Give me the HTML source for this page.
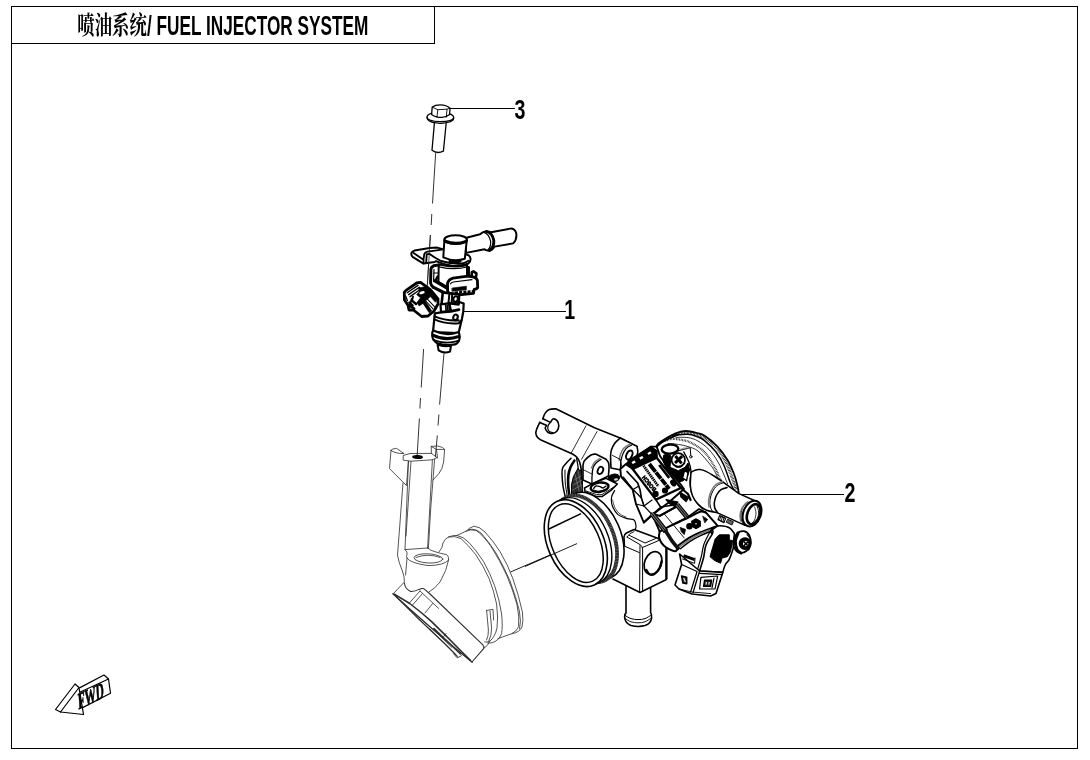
<!DOCTYPE html>
<html lang="zh">
<head>
<meta charset="utf-8">
<title>喷油系统/ FUEL INJECTOR SYSTEM</title>
<style>
html,body{margin:0;padding:0;background:#fff;}
body{width:1090px;height:760px;overflow:hidden;position:relative;font-family:"Liberation Sans","Noto Sans CJK SC",sans-serif;}
svg{position:absolute;left:0;top:0;display:block;filter:grayscale(1);}
.t{font-family:"Liberation Sans","Noto Sans CJK SC",sans-serif;font-weight:bold;fill:#000;}
.n{fill:none;stroke:#000;stroke-linecap:round;stroke-linejoin:round;}
.a{stroke-width:1.3;}
.b{stroke-width:0.9;}
.c{stroke-width:0.7;stroke:#222;}
.h{stroke-width:1.8;}
.k{fill:#000;stroke:#000;stroke-width:0.6;stroke-linejoin:round;}
.w{fill:#fff;stroke:#000;stroke-width:1.3;stroke-linejoin:round;stroke-linecap:round;}
</style>
</head>
<body>
<svg width="1090" height="760" viewBox="0 0 1090 760">
<rect x="0" y="0" width="1090" height="760" fill="#fff"/>
<!-- FRAME -->
<g id="frame" class="n" style="stroke-width:1;stroke-linecap:square;stroke-linejoin:miter" shape-rendering="crispEdges">
<rect x="11.5" y="6.5" width="1066" height="742"/>
<path d="M11.5 43.5H434.5V6.5"/>
</g>
<!-- TITLE -->
<g id="title">
<text class="t" style="font-family:'Liberation Sans','Noto Serif CJK SC',serif;font-weight:700" x="0" y="0" font-size="25" transform="translate(77.3 34.4) scale(0.695 1)">喷油系统</text>
<text class="t" x="0" y="0" font-size="27.4" transform="translate(147 34.8) scale(0.629 1)">/ FUEL INJECTOR SYSTEM</text>
</g>
<!-- LABELS -->
<g id="labels">
<text class="t" font-size="27.3" transform="translate(514.6 119.4) scale(0.72 1)">3</text>
<text class="t" font-size="27.3" transform="translate(564.2 318.7) scale(0.72 1)">1</text>
<text class="t" font-size="27.3" transform="translate(844.6 501.8) scale(0.72 1)">2</text>
</g>
<!-- leaders + axis lines -->
<g id="leaders" class="n" style="stroke-width:1.15;stroke-linecap:butt">
<path d="M450 108.5H514.9"/>
<path d="M463.5 311.5H566"/>
<path d="M739 494.5H844"/>
</g>
<g id="axes" class="n" style="stroke-width:0.8;stroke-linecap:butt">
<path d="M435.7 152.5L432.5 203.5M431.8 214L431.2 225M430.4 235L425.4 316M423.6 349L421.2 387.5M420.5 398L419.9 408.5M419.4 418.5L417.2 455"/>
<path d="M444 353L439.6 404.5M438.9 414.5L438 425.5M437.3 435.5L435.4 457"/>
</g>
<!-- bolt (3) -->
<g id="bolt" class="n a">
<path d="M432.2 107.2Q435 104.9 440.5 104.9Q446.5 105 450 108.2L449.6 114.6Q446 117.6 441.5 117.4Q435 117.3 431.6 114.4Z"/>
<path class="b" d="M432.2 107.2L437.8 109.7L447 109.2L450 108.2M437.8 109.7L437 117M447 109.2L446.3 117.2"/>
<path d="M431.6 113.3Q427 114.5 427 117.2Q427.3 121 440 121.7Q453.3 121.3 453.7 117.6Q453.6 115.2 449.6 113.9"/>
<path d="M427 117.6Q427.2 122.8 440 123.3Q453.5 122.8 453.7 118"/>
<path d="M434.4 123L432 150.2Q437 154.2 443.4 151.2L446.2 123"/>
</g>

<!-- injector (1) -->
<g id="injector" class="n" style="stroke-width:2.07">
<!-- pipe -->
<path class="w" style="stroke-width:1.95" d="M465.5 238L480 234.3Q483 231.5 486.5 231.2L491 232.2L510.3 228.6Q514.5 228.3 516.2 233Q517.2 239.5 513.2 243.4L494.5 246.6Q492 251 488 250.6Q485.5 250.2 484.5 249.2L466 252.9Z"/>
<path style="stroke-width:2.93" d="M486.6 231.6Q492.3 232.5 493.8 240.5Q494.2 247.5 489.5 250.4"/>
<path style="stroke-width:1.2" d="M483.8 232.4Q489 234 490.6 241Q491.2 247 487.6 250.2"/>
<!-- bracket plate -->
<path class="w" style="stroke-width:2" d="M443.5 249.4L437.2 247.6L429.7 247.9L414.5 250.6Q411.4 251.6 411.3 253.8Q411.4 255.8 412.6 256.8L423.5 263.6L434.7 262L436 261.2Q444 265 453 266Q462 266 468.4 263.5Q470.6 261.8 470.6 259Q470.5 256.6 468.5 255.2L466 254.4Z"/>
<path style="stroke-width:1.83" d="M413.6 253L423.5 259.7L424.3 254Q425 251.9 427.5 251.6L442 249.7M423.5 259.7L423.6 263.4M426.7 254.2L426.2 262.4M426.7 254.2L429.7 254Q434 257.4 441 261Q449.7 263.6 459 263.8Q465 263.4 468.6 260.8"/>
<!-- cap cylinder -->
<path class="w" style="stroke-width:2" d="M444.4 240L443.3 257.3Q454.7 262.4 464.8 258.8L466.8 240Z"/>
<ellipse class="w" style="stroke-width:2.07" cx="455.6" cy="239.5" rx="11.2" ry="4.2"/>
<path style="stroke-width:3.17" d="M445.2 241.2Q455.6 245.6 466.2 241.4"/>
<path style="stroke-width:2.93" d="M450 261Q455 262.4 460 261.4"/>
<!-- body -->
<path class="w" style="stroke-width:1.95" d="M438.7 264.5L438.5 282L447.5 288.5L449.5 280.5L467 276.7L467 265Q456 268.5 438.7 264.5Z"/>
<path style="stroke-width:1.2" d="M439 266.8Q455 270.4 467 267"/>
<path style="stroke-width:2.93" d="M468.5 267.4V276"/>
<path style="stroke-width:3.66" d="M435.3 281L447.6 288.2"/>
<path style="stroke-width:3.17" d="M433.6 287.4L444.6 293"/>
<!-- back plate -->
<path style="stroke-width:2.93" d="M438.6 265L433.6 265.8Q431 267 430.9 269.5L430.6 283Q431 285.5 433 287"/>
<path style="stroke-width:1.2" d="M433.6 273H438.4M434 269.6L433.6 281.6"/>
<path style="stroke-width:2.44" d="M437.6 276.6L435.6 280.6"/>
<!-- tab -->
<path class="w" style="stroke-width:2.68" d="M471.6 276.6L471.9 272.2L473.4 271.4L476.4 273.4L475.9 277.6"/>
<!-- latch -->
<path class="w" style="stroke-width:2.81" d="M447.6 291.4L447.5 283.4Q448.6 279.4 453 278.2L467.8 276.2L473 276.9Q476.6 277.8 477.4 280.4L477.7 287.6Q476.5 289.3 474.2 289.4L473.4 293.4L461.5 294.6L449.4 293.4Z"/>
<path style="stroke-width:1.2" d="M450.4 283.8Q451.5 282.4 453.4 282L472 279.7"/>
<path class="k" d="M452.2 288L466.4 286.2L466.4 289.8L452.2 291.3Z"/>
<path style="stroke-width:2.44;stroke-dasharray:3 1.2;stroke-linecap:butt" d="M455 292.6L473 291.3"/>
<!-- neck -->
<path class="w" style="stroke-width:2.56" d="M442.8 292.5L441.5 304.5L458.6 303L459.2 294.6Z"/>
<path style="stroke-width:1.95" d="M449.4 293.6L448.4 303.6M452.2 294.6L451.6 302.6"/>
<ellipse cx="455.6" cy="299" rx="2.2" ry="2.8" style="stroke-width:2.07" transform="rotate(20 455.6 299)"/>
<!-- cup -->
<path class="w" style="stroke-width:2.20" d="M440.5 304.4L449.2 303.4L458.6 304.6L459.4 302L463.7 303.5L463.3 311.5L462 318.5L458.6 333L433 332L434.8 313.4L441 312.4Z"/>
<path style="stroke-width:2.68" d="M449.2 303.4L450.8 311.4L441.4 312.2M450.8 311.4L459 309.6"/>
<path style="stroke-width:1.71" d="M445.6 304.2L446.2 311.4M447.6 305.5L448 310.4"/>
<ellipse cx="455.5" cy="317.3" rx="2.2" ry="2.8" style="stroke-width:2.07" transform="rotate(20 455.5 317.3)"/>
<path style="stroke-width:2.07" d="M434.6 316.4Q445 321 458.6 320.4M434.4 319.4Q445 324.4 458.8 323.2L461.4 320.4"/>
<!-- o-ring -->
<path class="w" style="stroke-width:2.20" d="M433.2 330.6Q431.8 332 432.2 335.5Q432.5 340.5 437 343Q445 346.4 455 344.4Q459.4 342.6 459.6 338L459.4 334.2Q459 332.6 458 332.2Q446 336.6 433.2 330.6Z"/>
<path style="stroke-width:3.17" d="M433.4 335.4Q445 341.2 459 336.6"/>
<path style="stroke-width:1.71" d="M433.4 339.8Q445 345 459 340.6"/>
<!-- tip -->
<path class="w" style="stroke-width:2.07" d="M437.6 344.6L438.6 350.4Q444 353.8 450 351.6L451 345.6Q444 347 437.6 344.6Z"/>
<!-- connector -->
<path class="w" style="stroke-width:2.81" d="M404.3 292.2L406 290.4L416.7 283L420.5 282.3L430.4 289.7L438 299L438 304L434 311L428 316L421.7 316.5L413.4 310L409 310L408 305.3L404.4 299.7Z"/>
<path style="stroke-width:1.34" d="M407.2 292.8L418 285.4M408.6 294.6L419.4 287.2M410 296.6L420.6 289.2M405.6 296L407.4 300.6M411.4 298.6L410.4 303"/>
<path class="k" d="M418.6 287.9L426.1 286.6L432.9 292.2L437.9 299.1L435.4 302.2L430.4 296.6L425.4 301L431.7 310.9L429.2 312.8L423 303.4L419.2 305.9L416.7 302.8L420.5 297.8L416.7 294.7L419.2 291.6Z"/>
<ellipse cx="422" cy="292.7" rx="2.8" ry="1.4" fill="#fff" stroke="none" transform="rotate(-15 422 292.7)"/>
<path style="stroke-width:2.44" d="M408.6 305.3L414.2 308.6M412 300.6L416 304M409.4 302.6L412.6 305.6"/>
<path style="stroke-width:1.95" d="M413 296.8L411.6 301.6"/>
<path style="stroke-width:1.03" d="M427.4 299.1L434.9 307.2M425.8 301L433.2 309.2"/>
</g>

<g class="n" style="stroke-width:0.75;stroke-linecap:butt;stroke:#222"><path d="M430.4 235L427.4 284.6"/></g>

<!-- intake boot -->
<g id="boot" class="n" style="stroke-width:0.8;stroke:#2a2a2a">
<!-- left ear -->
<path d="M391 450.4Q390.6 449 396.6 448.4L404 453.6M391 450.4Q395 453.6 403.6 453.6M391 450.4L389.5 468.6L406.5 485.6L408.4 461.4"/>
<path d="M403 483L399.6 528L397.5 555Q398.5 562 402 570Q404.6 576 404.4 582L393.5 593.5"/>
<!-- hex top -->
<path d="M403.6 455.4L410 453.5L431.5 453.4L437 457.6L432.4 459.8L411 461.2L403.6 460.2Z"/>
<ellipse cx="417.6" cy="457" rx="5.4" ry="2" fill="#000" stroke="none" transform="rotate(3 417.6 457)"/>
<!-- right ear -->
<path d="M431.4 453.4L431.2 446.4L437.6 446Q443.6 447 444.6 449.4L443.6 462Q442.6 469 439 473.4L433 480M431.2 446.4L436.4 449.4L444.4 449.4M436.4 449.4L437.6 458"/>
<!-- column -->
<path d="M408.4 461.4L405 549.6L427.6 548M411 461.4L406 536M432.4 459.8L427.6 548M434.6 459.4L430.6 510L428.4 548.6"/>
<!-- seat -->
<path d="M405 549.6Q408 552 407 554.6Q406 556.6 407 558Q410 563 428 565.6Q444 565.4 448.6 560Q449 556.4 446.6 554.6Q440 553.4 436 552Q430 550.6 427.6 548"/>
<ellipse cx="428.4" cy="558.4" rx="14.4" ry="4.6" transform="rotate(3 428.4 558.4)"/>
<path d="M416 557.4Q428 553 440 557.4"/>
<path d="M407 558L405.6 575M448.6 560Q447 570 440 582Q435 588.6 429 592"/>
<!-- big bell -->
<path d="M439 552Q442.8 548 443 543Q444.6 539 448.4 537Q453 535.2 457 535.4L466 531.2Q469.6 527.4 474 526.2Q479.4 526.4 485 532Q493 540.6 500 551.6Q508 565 513 579Q519 596 522.4 612Q523.6 621 522 627Q519.4 632.6 512 633.6L498 638.6"/>
<path d="M466 531.2Q471 528.8 476 530.4Q483 535 491 546.4Q500 560.6 506.6 575Q513 590 517 604.6Q519.6 617 518.6 626.6Q516.6 631.6 512 633.6"/>
<path d="M468.6 529.6Q475 528 481 533Q489 542 496 553Q504 567 510 581Q516 597 519.4 611Q521.4 622 519.6 629"/>
<path d="M448.4 537Q455 535.4 461 538.6Q468 544.6 475.6 554.4Q483.6 566 489 578.4Q494 591 496.6 604Q498.4 618 497 628Q495 637 490 641Q487 642.6 484.6 642"/>
<path d="M457 535.4Q463.6 536.6 469 542.6Q476 550 483.6 561.6Q490 573 494.6 585.6Q499.6 600 501.6 614Q502.8 626 501.6 633.6Q499.6 639.4 495 641.6Q491 643.6 487.6 643"/>
<path d="M486.6 610.4L493 609.4L493.6 620M486.6 610.4L488.4 630Q488.6 636 486.6 640"/>
<path d="M490 611L491.6 628Q491.6 636 489 640.6"/>
<!-- flange -->
<path style="stroke-width:1.05" d="M404.4 583Q405 589 410.6 591.4Q415 591.6 419 589.4Q423 587.6 425 589.6L430 594L482.6 644.6Q484.6 646.6 483.6 648.6L472 662"/>
<path d="M420 591L409.4 603M422.4 593.6L412.6 605M420 591L438.6 608.4M432.6 603.6L425 613"/>
<path d="M483.6 648.6Q488 646 490 641"/>
<path style="stroke-width:1.3" d="M392.9 593.8Q430 628 472.2 662.2"/>
<path style="stroke-width:1.5" d="M394.4 594.2L409.7 603.5Q421 612 431.6 621.6Q447 636.6 462.5 652.5L470.4 660.4"/>
<path style="stroke-width:1.1" d="M395.6 596.2L418.7 619L444.5 643.5L457.3 656.4"/>
<path style="stroke-width:1.6;stroke:#333" d="M434 628.6L447 641L460.4 654"/>
<path style="stroke-width:0.8" d="M430 629L456 654.6M437 633L452 647.6"/>
<path style="stroke-width:0.9" d="M453.5 653.8L457.3 657.9L461.4 655.7M443.6 636.6L446 633.6"/>
</g>
<g id="axis2" class="n" style="stroke-width:0.9;stroke-linecap:butt">
<path d="M510.5 572L581 541.6"/>
</g>

<!-- FWD arrow -->
<g id="fwd" class="n" style="stroke-width:1.2">
<path d="M60.5 712L79 687.5L83.5 714.5Z"/>
<path d="M60.5 712L55.5 709.5L75 684L79 687.5"/>
<path d="M80.3 692L108.5 679L110.5 693.2L82.6 707.6"/>
<path d="M80 687.6L104 675L108.5 679"/>
<text style="font-family:'Liberation Serif',serif;font-weight:bold;fill:#000;stroke:#000;stroke-width:0.7" font-size="23" transform="matrix(0.48 -0.235 0.06 1 78.6 709.6)">FWD</text>
</g>

<!-- throttle body (2) -->
<g id="throttle" class="n" style="stroke-width:1.4">
<path class="n" style="stroke-width:1.8" d="M655.5 448.5C655.9 447.8 656.4 445.6 658 444C659.6 442.4 661.8 440.9 665 439C668.2 437.1 673.5 434.1 677 432.8C680.5 431.5 682.7 431 686 431C689.3 431 693.8 432.2 697 433C700.2 433.8 701.7 433.8 705 436C708.3 438.2 713.2 442 717 446C720.8 450 724.7 455.3 727.5 460C730.3 464.7 732.3 469.7 734 474C735.7 478.3 736.7 482.6 737.5 486C738.3 489.4 738.8 493.1 739 494.5"/>
<path class="n" style="stroke-width:3;stroke-dasharray:0.7 0.8;stroke-linecap:butt;stroke:#111" d="M675 434C677.3 433.8 684.8 432.5 689 432.8C693.2 433.1 696.8 434.4 700 435.6C703.2 436.8 704.8 437.5 708 440C711.2 442.5 715.8 446.5 719 450.6C722.2 454.7 724.7 459.8 727 464.5C729.3 469.2 731 474.8 732.6 479C734.2 483.2 735.8 488.2 736.4 490"/>
<path class="n" style="stroke-width:1.5" d="M672 435.6C674.6 435.4 683.5 434 687.7 434.2C691.9 434.4 694.2 435.5 697 436.6C699.8 437.7 701.3 438 704.5 440.6C707.7 443.2 712.8 447.9 716 452C719.2 456.1 721.5 460 723.8 465C726.1 470 728.3 477.8 730 482C731.7 486.2 733.3 488.7 734 490"/>
<path class="n" style="stroke-width:2.2;stroke-dasharray:0.7 0.85;stroke-linecap:butt;stroke:#111" d="M664 441C665.3 440.7 669 439.2 672 439C675 438.8 678.7 439.3 682 440C685.3 440.7 687.9 441 691.6 443C695.4 445 700.9 448.3 704.5 452C708.1 455.7 711.1 461.1 713.5 465C715.9 468.9 717.4 472.7 718.6 475.4C719.9 478.1 720.6 480.1 721 481"/>
<path class="n" style="stroke-width:0.8" d="M668 443.5C669.8 443.7 675.4 444 678.7 444.5C682 445 684.8 445.5 688 446.6C691.2 447.7 694.4 448.1 698 451C701.6 453.9 706.8 460.4 709.6 463.8C712.4 467.2 713.4 469 714.8 471.5C716.2 474 717.5 477.8 718 479"/>
<path class="n" style="stroke-width:0.8" d="M676 437.4C678 437.4 684.3 437 688 437.6C691.7 438.2 694.5 439 698 441C701.5 443 705.7 446.1 709 449.6C712.3 453.1 715.5 457.8 718 462C720.5 466.2 722.4 471.3 724 475C725.6 478.7 727 482.5 727.6 484"/>
<path class="n" style="stroke-width:1.6" d="M542.9 418.7C543.2 417.8 543.9 414.9 545 413.4C546.1 411.9 547.5 410.4 549.3 409.6C551.1 408.8 554.7 408.9 555.8 408.8L594.5 427.7L620.2 438L637 446.4"/>
<path class="n" style="stroke-width:1.6" d="M542.9 418.7L550.4 422.4C550.8 421.8 551.9 419.3 553 419C554.1 418.7 556 419.5 557 420.6C558 421.7 558.8 423.9 558.8 425.6C558.8 427.3 558.1 429.7 557 431C555.9 432.3 554 433.2 552.4 433.4C550.8 433.6 548.8 432.9 547.6 432C546.4 431.1 545.3 429.1 545.2 428C545.1 426.9 546.5 426 546.8 425.6L539.8 422.4"/>
<path class="n" style="stroke-width:1.2" d="M550.4 422.4C550.1 422.8 548.8 424 548.4 425C548 426 547.6 427.5 547.8 428.6C548 429.7 548.8 430.9 549.6 431.6C550.4 432.3 552.1 432.4 552.6 432.6"/>
<path class="n" style="stroke-width:1.6" d="M539.8 422.4C539.3 423.4 537.7 426.6 537 428.4C536.3 430.2 535.7 431.5 535.8 433C535.9 434.5 536.7 436.4 537.6 437.6C538.5 438.8 540.4 439.6 541 440L572.5 454C573.2 454.5 575.4 455.7 576.6 457C577.8 458.3 578.8 459.7 579.6 462C580.4 464.3 581 467.2 581.4 471C581.8 474.8 582 481.5 582.2 485C582.4 488.5 582.4 490.8 582.4 492"/>
<path class="n" style="stroke-width:0.8" d="M586 425.8L571.3 452.9M597 431.6L581.6 459.3"/>
<path class="n" style="stroke-width:1.5" d="M571 458.4C570.2 459.2 567.8 461.4 566.4 463C565 464.6 563.3 466.2 562.6 468C561.9 469.8 561.9 471 562 474C562.1 477 562.4 482.1 563 486C563.6 489.9 565 495.7 565.4 497.6"/>
<path class="n" style="stroke-width:2.6" d="M574.4 460.6C573.8 461.7 571.6 464.6 570.6 467C569.6 469.4 568.8 472 568.4 475C568 478 568 481.4 568.2 485C568.4 488.6 569.2 494.7 569.4 496.6"/>
<path class="n" style="stroke-width:1" d="M565 470C565 472 564.9 477.8 565.2 482C565.5 486.2 566.7 492.8 567 495"/>
<path class="n" style="stroke-width:1.3" d="M576.6 458.6C576.8 459.5 577.3 462.1 577.6 464C577.9 465.9 578.3 469 578.4 470"/>
<path d="M577.6 469L581.4 471L582.4 492.6L571.6 495.6L571.4 485Q572.4 476 577.6 469Z" fill="#2a2a2a" stroke="#000" stroke-width="1"/>
<path class="n" style="stroke:#fff;stroke-width:0.45;opacity:.6" d="M574 480L581 476M573 485L582 480M572.6 490L582 485M575 474L580 495M578 471L582 490"/>
<path class="w" style="stroke-width:1.6" d="M620.2 438C619.3 438.9 616.1 441.4 614.6 443.4C613.1 445.4 612.1 447.9 611.4 450C610.7 452.1 610.7 453 610.6 456C610.5 459 610.9 466 611 468L621 470L636 458C636.3 457 637.6 453.9 637.8 452C638 450.1 637.1 447.3 637 446.4L620.2 438Z"/>
<path class="n" style="stroke-width:1.2" d="M631.8 445C630.8 445.6 627.5 447 626 448.6C624.5 450.2 623.4 452.6 622.6 454.6C621.8 456.6 621.4 458.4 621 460.6C620.6 462.8 620.5 466.8 620.4 468"/>
<path class="n" style="stroke-width:1.6;stroke:#777" d="M630 444.2C629 444.8 625.6 446.4 624 448C622.4 449.6 621.4 452 620.6 454C619.8 456 619.4 459 619.2 460"/>
<ellipse class="n" style="stroke-width:2" cx="629.3" cy="455" rx="2.8" ry="4.8" transform="rotate(25 629.3 455)"/>
<path class="n" style="stroke-width:0.9" d="M612.5 455.4L620 459.3M620 459.3L621.8 466.4"/>
<path class="w" style="stroke-width:1.6" d="M583 465C583.3 464.3 583.3 462.2 584.6 460.6C585.9 459 588.8 456.3 590.6 455.2C592.5 454.1 594.9 454.2 595.7 454L606 459.3C606.4 459.9 608.1 461.6 608.6 463C609.1 464.4 609 465.8 609 468C609 470.2 608.5 474.7 608.4 476L592 484L583 480Z"/>
<path class="n" style="stroke-width:1.3" d="M601 459.3C600.2 459.9 597.3 461.6 596 463C594.7 464.4 593.7 465.7 593 468C592.3 470.3 592.2 474.3 592 477C591.8 479.7 592 482.8 592 484"/>
<path class="n" style="stroke-width:1.4;stroke:#777" d="M599.4 458.6C598.6 459.2 595.7 460.8 594.4 462.4C593.1 464 591.9 467.1 591.4 468"/>
<ellipse class="n" style="stroke-width:1.8" cx="600.4" cy="470.4" rx="2.6" ry="3.8" transform="rotate(25 600.4 470.4)"/>
<path class="n" style="stroke-width:0.8" d="M583 469.6L592 474"/>
<ellipse style="fill:#000;stroke:#000;stroke-width:1" cx="613.8" cy="478" rx="5.8" ry="3.9" transform="rotate(-10 613.8 478)"/>
<ellipse style="fill:#fff;stroke:none;opacity:.85" cx="616" cy="479.4" rx="2" ry="1.2" transform="rotate(-10 616 479.4)"/>
<path class="w" style="stroke-width:1.5" d="M584.6 488L593 483.4L606 478.4L617.4 484L611 490.4L602 496.6L596 496.4L585 491.6Z"/>
<path class="n" style="stroke-width:0.9" d="M586 491L596.6 494.6L602 494.6L616 485.6"/>
<ellipse class="n" style="stroke-width:2.4" cx="599.6" cy="487.2" rx="9" ry="4.6" transform="rotate(-8 599.6 487.2)"/>
<path class="n" style="stroke-width:1.3" d="M593.6 488.6C594 488.2 594.9 486.3 596 486C597.1 485.7 598.8 486.3 600 486.6C601.2 486.9 602 488.1 603 488C604 487.9 605.5 486.3 606 486"/>
<path class="n" style="stroke-width:1" d="M594 490C594.8 490.2 597.2 491.5 599 491.4C600.8 491.3 604 489.9 605 489.6"/>
<path class="n" style="stroke-width:1.2" d="M614.6 490.6C614.1 491.7 612 494.4 611.6 497C611.2 499.6 611.3 503.1 612.4 506C613.5 508.9 615.6 512.5 618 514.6C620.4 516.7 624.3 517.7 627 518.6C629.7 519.5 632.5 518.8 634 520C635.5 521.2 635.8 524.3 636 526C636.2 527.7 635.2 529.3 635 530"/>
<path class="n" style="stroke-width:0.7" d="M612.6 500C613 501.3 613.8 505.7 615 508C616.2 510.3 618.2 512.5 620 514C621.8 515.5 625 516.5 626 517"/>
<path class="w" style="stroke-width:1.6" d="M626 586L626 613Q624.4 614 624.6 617Q625 623 631 625.4Q638 627.4 645 625.6Q651 623.6 651.6 618Q651.8 614 650.6 612.6L650.6 588"/>
<path class="n" style="stroke-width:1" d="M625 615.4C626 615.9 628.8 617.9 631 618.6C633.2 619.3 635.7 619.6 638 619.6C640.3 619.6 642.8 619.4 645 618.6C647.2 617.8 650.3 615.6 651.4 615"/>
<path class="n" style="stroke-width:0.9" d="M625 618.4C626 619 628.8 621.1 631 621.8C633.2 622.5 635.7 622.8 638 622.8C640.3 622.8 642.8 622.6 645 621.8C647.2 621 650.3 618.6 651.4 618"/>
<path class="w" style="stroke-width:1.6" d="M613 579L640 592.5L666.4 579.5L666.4 546.5L662 540.6L657 538L634 529.5L626.4 533Q624 534.6 624 537L624.4 546"/>
<path class="n" style="stroke-width:1" d="M627 537L640 544.6Q642.4 546 642.6 549L642.6 591M640 545.6L639.6 592M625 546.4L639.4 552.6M629.4 535.4L645 543L655.6 538.6M642.6 547.4L660 540"/>
<path class="n" style="stroke-width:0.9" d="M627 537Q629 533 634 531.6"/>
<path class="n" style="stroke-width:2.2;stroke-linecap:butt" d="M666.4 547L666.4 579"/>
<ellipse class="n" style="stroke-width:1.7" cx="653" cy="563" rx="8.4" ry="11.8" transform="rotate(22 653 563)"/>
<path class="n" style="stroke-width:2.2" d="M646.4 570C647 570.8 648.6 574 650 574.6C651.4 575.2 653.4 574.7 655 573.6C656.6 572.5 658.5 570.1 659.6 568C660.7 565.9 661.3 562.2 661.6 561"/>
<g>
<g>
<ellipse class="w" style="stroke-width:1.6" cx="592.5" cy="535.8" rx="27.9" ry="45.8" transform="rotate(-23.9 592.5 535.8)"/>
<ellipse class="w" style="stroke-width:3.8;stroke:#1c1c1c" cx="585.5" cy="538.8" rx="27.9" ry="45.8" transform="rotate(-23.9 585.5 538.8)"/>
<ellipse class="n" style="stroke-width:3.8;stroke:#fff;stroke-dasharray:0.5 1;opacity:.4;stroke-linecap:butt" cx="585.5" cy="538.8" rx="27.9" ry="45.8" transform="rotate(-23.9 585.5 538.8)"/>
<ellipse class="w" style="stroke-width:1.4" cx="580.3" cy="541.1" rx="27.9" ry="45.8" transform="rotate(-23.9 580.3 541.1)"/>
</g>
<ellipse class="w" style="stroke-width:1.6" cx="575.8" cy="543.1" rx="27.9" ry="45.8" transform="rotate(-23.9 575.8 543.1)"/>
<ellipse class="n" style="stroke-width:1.5" cx="575.8" cy="543.1" rx="23.7" ry="41.6" transform="rotate(-23.9 575.8 543.1)"/>
</g>
<path class="n" style="stroke-width:1.5;stroke-linecap:butt" d="M548.4 529.2L581 513.6"/>
<path class="n" style="stroke-width:0.9;stroke-linecap:butt" d="M525 566.5L577 543.6"/>
</g>
<!-- throttle body: nipple, sensors, TPS -->
<g id="throttle2" class="n" style="stroke-width:1.4">
<path class="n" style="stroke-width:1.4" d="M683.8 452C684.7 453.8 687.8 459.2 689 462.5C690.2 465.8 690.8 468.2 691 471.5C691.2 474.8 689.9 478.6 690 482C690.1 485.4 690.4 488.6 691.5 492C692.6 495.4 694.8 499.7 696.7 502.5C698.6 505.3 702 507.9 703 509"/>
<path class="w" style="stroke-width:1.5" d="M691 472.4C691.7 472 693.5 470.7 695 470.2C696.5 469.7 698.2 469.4 700 469.6C701.8 469.8 703.7 470.3 706 471.4C708.3 472.5 711 474.1 714 476C717 477.9 722.2 481.5 723.8 482.6L739 493.6L756 501.2L745 525.4L717 512.6C715.2 512.2 709.2 511.4 706 510C702.8 508.6 700.2 506.3 698 504C695.8 501.7 693.9 499 692.6 496C691.3 493 690.7 489.9 690.4 486C690.1 482.1 690.9 474.7 691 472.4Z"/>
<path class="n" style="stroke-width:1" d="M723.8 482.6C722.7 483.1 718.9 484 717 485.6C715.1 487.2 713.6 489.6 712.4 492C711.2 494.4 710.3 497.5 710 500C709.7 502.5 709.9 505 710.4 507C710.9 509 712.6 511.2 713 512"/>
<path class="n" style="stroke-width:1.5;stroke:#777" d="M722.6 481.6C721.4 482.1 717.5 483.1 715.6 484.8C713.7 486.5 712.2 489.1 711 491.6C709.8 494.1 708.9 497.4 708.6 500C708.3 502.6 708.9 505.8 709 507"/>
<path class="n" style="stroke-width:1.6" d="M727 487.6C726 487.9 722.7 488.4 721 489.6C719.3 490.8 717.7 492.9 716.6 495C715.5 497.1 714.7 499.8 714.4 502C714.1 504.2 714.3 506.2 714.8 508C715.3 509.8 717 511.8 717.4 512.6"/>
<ellipse class="w" style="stroke-width:2.1" cx="752" cy="513.6" rx="8.8" ry="13.3" transform="rotate(20 752 513.6)"/>
<path class="n" style="stroke-width:1" d="M748 501.6C747.3 502.3 744.7 504.3 743.6 506C742.5 507.7 741.6 509.9 741.2 512C740.8 514.1 740.7 516.6 741 518.6C741.3 520.6 742.7 523.1 743 524"/>
<path class="n" style="stroke-width:1.3;stroke:#777" d="M746.4 502.4C745.7 503.3 743.1 505.9 742 508C740.9 510.1 740.2 512.8 740 515C739.8 517.2 740.5 520 740.6 521"/>
<ellipse class="n" style="stroke-width:2.6" cx="753.6" cy="514.2" rx="6.2" ry="10.4" transform="rotate(20 753.6 514.2)"/>
<path class="n" style="stroke-width:0.9" d="M757 506C757.3 507 758.5 509.8 758.6 512C758.7 514.2 758.2 517 757.4 519C756.6 521 754.6 523.2 754 524"/>
<path class="n" style="stroke-width:0.8" d="M754.6 507C754.8 508 756 510.8 756 513C756 515.2 755.3 518.2 754.6 520C753.9 521.8 752.1 523 751.6 523.6"/>
<path class="n" style="stroke-width:1.2" d="M719.6 515.6L725.6 518.4L724 522.6L718 519.6Z"/>
<path class="n" style="stroke-width:0.9" d="M720.8 516.4L719.6 520M722.4 517L721.2 521M724 517.8L722.8 521.8"/>
<path class="n" style="fill:#666;stroke-width:0.9" d="M728 519.4L733.4 521.8L732 525L726.6 522.4Z"/>
<path class="w" style="stroke-width:1.9" d="M626 464L651 446.6L656.7 446.6L660 456L684 489L668 503L652 515L643.8 522.5L636 504L632.7 489.7L621 476.5L620.3 469Z"/>
<path class="n" style="stroke-width:1.7" d="M627 471.5L637.7 483L640 489.7L641.4 498L644 506"/>
<path class="n" style="stroke-width:1.2" d="M623.4 477L633.6 490L641.4 498M632.7 489.7L638 486.6M644 506L652 500M636 504L644 506L651.6 514"/>
<path class="n" style="stroke-width:1.8" d="M643.8 522.5L652 515L660 508"/>
<path d="M626.9 465L656.7 450.8L657 457.6L632.7 469Z" fill="#000" stroke="#000" stroke-width="1.8" stroke-linejoin="round"/>
<path d="M628.6 460.7L651 446.6L656.7 450.8L626.9 465Z" fill="#000" stroke="#000" stroke-width="1.6" stroke-linejoin="round"/>
<path d="M630.6 461.8L634.6 459.4L636.8 462.6L632.6 465ZM638.2 457.4L642.4 455L644.6 458.2L640.2 460.6ZM646.4 452.8L650.4 450.4L652.6 453.4L648.4 455.8Z" fill="#fff"/>
<path class="w" style="stroke-width:2.3" d="M632.7 469L656.7 457.8L680.8 488L655.9 499.6Z"/>
<path class="n" style="stroke-width:3.8;stroke-linecap:butt;stroke-dasharray:10 0.7 8 0.7 7 0.7 20" d="M649.3 464L669.2 488.9"/>
<path class="n" style="stroke-width:2.5;stroke-linecap:butt" d="M659.2 464.9L669.2 478.1"/>
<path class="n" style="stroke-width:2.8;stroke-linecap:butt;stroke-dasharray:1.5 0.6" d="M643.5 465.7L658.4 486.4"/>
<ellipse style="fill:#000" cx="673.3" cy="483" rx="3" ry="2" transform="rotate(52 673.3 483)"/>
<circle cx="665" cy="490.5" r="2.4" fill="#000"/>
<circle cx="655.5" cy="493.9" r="2.5" fill="#000"/>
<text style="font-family:'Liberation Sans',sans-serif;font-weight:bold;fill:#000;stroke:#000;stroke-width:0.6" font-size="5.6" transform="translate(656.4 489.2) rotate(-130) scale(0.9 1)">BOSCH</text>
<path d="M666 499.6L678 502L674.6 506.4L670 504Z" fill="#000" stroke="#000" stroke-width="1.2" stroke-linejoin="round"/>
<path d="M679.6 492L688.6 497.6L686 501.6L681 497Z" fill="#000" stroke="#000" stroke-width="1.2" stroke-linejoin="round"/>
<path class="n" style="stroke-width:1.5" d="M656 500L660.6 507L677.4 504.5"/>
<path class="n" style="stroke-width:2.2" d="M681 488L688 494L690.6 500"/>
<path class="n" style="stroke-width:1.9" d="M656.7 446.6C657.5 445.9 659.5 443.9 661.7 442.5C663.9 441.1 667.3 439.3 670 438C672.7 436.7 676.7 435.2 678 434.6"/>
<ellipse class="n" style="stroke-width:2.4" cx="670" cy="449.1" rx="8.3" ry="4.5" transform="rotate(-4 670 449.1)"/>
<path class="n" style="stroke-width:1" d="M677.4 451L690.2 447.7L690.8 455.6"/>
<circle cx="690.8" cy="456.8" r="1.2" class="n" style="stroke-width:0.9"/>
<path class="n" style="stroke-width:2.4;stroke:#666;stroke-dasharray:0.6 0.6;stroke-linecap:butt" d="M680 449.8L688 447.8"/>
<path d="M664 455L668 454L671 456L670 467.3L678.3 470.7L685 467.3L688 463L689.6 470L687.6 476L683.3 480.8L678.3 482L674 477.5L667.2 470.1L663.4 462Z" fill="#000" stroke="#000" stroke-width="1" stroke-linejoin="round"/>
<circle cx="678.3" cy="459.9" r="6.7" fill="#fff" stroke="#000" stroke-width="1.7"/>
<path class="n" style="stroke-width:3;stroke-linecap:butt" d="M675.4 456L681.6 463.4M682.2 456.2L675 463"/>
<path class="n" style="stroke-width:1" d="M672.6 463.6C673.2 464.2 674.6 466.4 676 467C677.4 467.6 679.6 467.6 681 467C682.4 466.4 684 464.2 684.6 463.6"/>
<path d="M684.6 470L688 473L686.6 480.6L682.6 478Z" fill="#fff"/>
<path class="w" style="stroke-width:1.9" d="M651.8 513.4L659.7 515.8L677 506.3L677 504.7L687.4 517.4L671.6 525.3L659.7 531.6Z"/>
<path class="n" style="stroke-width:1.9" d="M659.7 515.8L677 506.3"/>
<path class="w" style="stroke-width:2" d="M659.7 531.6C661.7 530.5 667 527.5 671.6 525.3C676.2 523.1 682.7 520.5 687.4 518.2C692.1 516 696.9 512.7 700 511.8C703.1 510.9 705 512.5 706 512.6L717.7 525.8C716.8 526.2 715 526.9 712 528C709 529.1 703.8 530.8 700 532.4C696.2 534 692.7 535.7 689 537.9C685.3 540.1 679.8 544.5 677.9 545.8C677.5 546.7 677.5 551 675.5 551.3C673.5 551.6 668.4 548.8 666 547.4C663.6 546 662.5 544.3 661.3 542.6C660.1 540.9 659.3 538.8 659 537C658.7 535.2 659.6 532.5 659.7 531.6Z"/>
<path class="n" style="stroke-width:1.5" d="M680.6 548.6C682.2 547.4 686.6 543.6 690 541.4C693.4 539.2 697.2 537.2 701 535.4C704.8 533.6 710.6 531.2 712.5 530.4"/>
<path class="n" style="stroke-width:1.6;stroke:#777" d="M679.4 547C681.1 545.8 686.1 541.8 689.6 539.6C693.1 537.4 696.9 535.5 700.6 533.8C704.3 532.1 710.1 530 712 529.2"/>
<path class="n" style="stroke-width:0.9" d="M664.5 514.2L684.2 537.9"/>
<path d="M650.1 514.7L664.3 532.9L667.7 530.3L653.5 512.1Z" fill="#6a6a6a" stroke="none"/>
<path class="n" style="stroke-width:1.1;stroke-linecap:butt" d="M650.1 514.7L664.3 532.9M653.5 512.1L667.7 530.3"/>
<path class="n" style="stroke-width:0.9;stroke-linecap:butt" d="M651.8 513.4L666 531.6"/>
<path class="n" style="stroke-width:3.6;stroke-linecap:butt;stroke:#111" d="M665 530L672 541L679 549.6"/>
<path d="M675.5 506L685.9 518.7L688.9 516.1L678.5 503.4Z" fill="#6a6a6a" stroke="none"/>
<path class="n" style="stroke-width:1.1;stroke-linecap:butt" d="M675.5 506L685.9 518.7M678.5 503.4L688.9 516.1"/>
<path class="n" style="stroke-width:0.9;stroke-linecap:butt" d="M677 504.7L687.4 517.4"/>
<path class="n" style="stroke-width:1.7" d="M687.4 517.4L699 509L706 512.6"/>
<circle cx="696" cy="523.7" r="4.3" fill="#000"/>
<path class="n" style="stroke-width:2;stroke-linecap:butt" d="M696 518.4V529M691.4 521L700.6 526.4M691.4 526.4L700.6 521"/>
<circle cx="696" cy="523.7" r="1.5" fill="#fff"/>
<circle cx="689.4" cy="526.2" r="2.5" fill="#000"/>
<path d="M680.4 527.6L685.6 529.4L684.2 534.6L681.6 532Z" fill="#000" stroke="#000" stroke-width="0.8" stroke-linejoin="round"/>
<path d="M703 516.4L707.6 519.4L705 522.6Z" fill="#000" stroke="#000" stroke-width="0.8" stroke-linejoin="round"/>
<ellipse class="w" style="stroke-width:1.8" cx="713.6" cy="530.6" rx="2.4" ry="3.2" transform="rotate(30 713.6 530.6)"/>
<path class="w" style="stroke-width:1.6" d="M712.5 529.6C713.1 529.2 714.7 527.6 716 527C717.3 526.4 718 525.7 720.2 525.8C722.4 525.9 726.9 526.4 729.3 527.7C731.7 529 733.5 532.5 734.4 533.5L733.1 549C732.5 550.7 730.6 556.7 729.3 559.3C728 561.9 726.5 562.4 725.4 564.5C724.3 566.6 723.2 570.9 722.8 572.2L699.6 571C700.2 568.8 702.4 562.3 703.5 558C704.6 553.7 704.5 549.1 706 545C707.5 540.9 711.4 536.1 712.5 533.5C713.6 530.9 712.5 530.2 712.5 529.6Z"/>
<path class="n" style="stroke-width:1.2" d="M710 531.6C709 533.7 705.5 539.8 704 544C702.5 548.2 702.3 552.7 701.2 557C700.1 561.3 698 567.8 697.4 570"/>
<path d="M719.6 534.8L729.3 534.8L729.3 540L732.5 540.6L730.6 551.6L727.3 556.7L722 558L720.6 563.2L714.6 560.6L710 556.7L712.6 547.7L715.2 539Z" fill="#000" stroke="#000" stroke-width="1"/>
<ellipse class="w" style="stroke-width:1.8" cx="742" cy="542" rx="8.6" ry="11" transform="rotate(10 742 542)"/>
<path class="n" style="stroke-width:3" d="M738 533C737.6 534.3 735.6 538.2 735.4 541C735.2 543.8 736.1 547.6 737 549.6C737.9 551.6 740.3 552.4 741 553"/>
<circle cx="745" cy="543.6" r="5.6" fill="#000" stroke="#000" stroke-width="1.5"/>
<circle cx="745.6" cy="543.6" r="3.4" fill="#fff"/>
<path class="n" style="stroke-width:1.6;stroke-linecap:butt" d="M743.6 541.4L747.8 545.8M748 541.8L743.6 546"/>
<path class="n" style="stroke-width:1.2" d="M747 534.6C747.6 535.3 749.8 537.3 750.4 539C751 540.7 751.1 543.2 750.8 545C750.5 546.8 749 549.2 748.6 550"/>
<path class="w" style="stroke-width:1.6" d="M679.6 554L699.6 571L722.8 572.4L716 593.6L710.6 596L692 594L679 589L675 585L681.6 564.5Z"/>
<path class="n" style="stroke-width:1.3" d="M699.6 571L693 592.8M697 571.6L690.6 592M681.6 564.5L697 571.5M700 573.4L722 574.6"/>
<path class="n" style="stroke-width:2.8;stroke-linecap:butt" d="M683.6 555.6L694.5 559.6"/>
<path class="n" style="stroke-width:1" d="M682.6 559L694.6 563.4L695 558"/>
<path class="n" style="stroke-width:1.5;fill:#333" d="M681.6 576L686.7 577.3L686.7 583.8L682.9 583Z"/>
<path class="n" style="stroke-width:1.1;stroke:#fff" d="M683.8 578.4L685.2 581.6"/>
<path class="n" style="stroke-width:1.2" d="M700.9 577.3L717.7 576L715 589L699.6 589Z"/>
<path class="n" style="stroke-width:1.4;fill:#222" d="M704.6 580.2L711.6 580.2L710.6 586.4L703.6 586.4Z"/>
<path class="n" style="stroke-width:1.1;stroke:#fff;stroke-linecap:butt" d="M706.4 582L706 584.6M709.2 582L708.8 584.6"/>
<path class="n" style="stroke-width:1.2" d="M714 578L712 588"/>
<path class="n" style="stroke-width:0.9" d="M679 589L692 592L710.6 593.6"/>
</g>

</svg>
</body>
</html>
